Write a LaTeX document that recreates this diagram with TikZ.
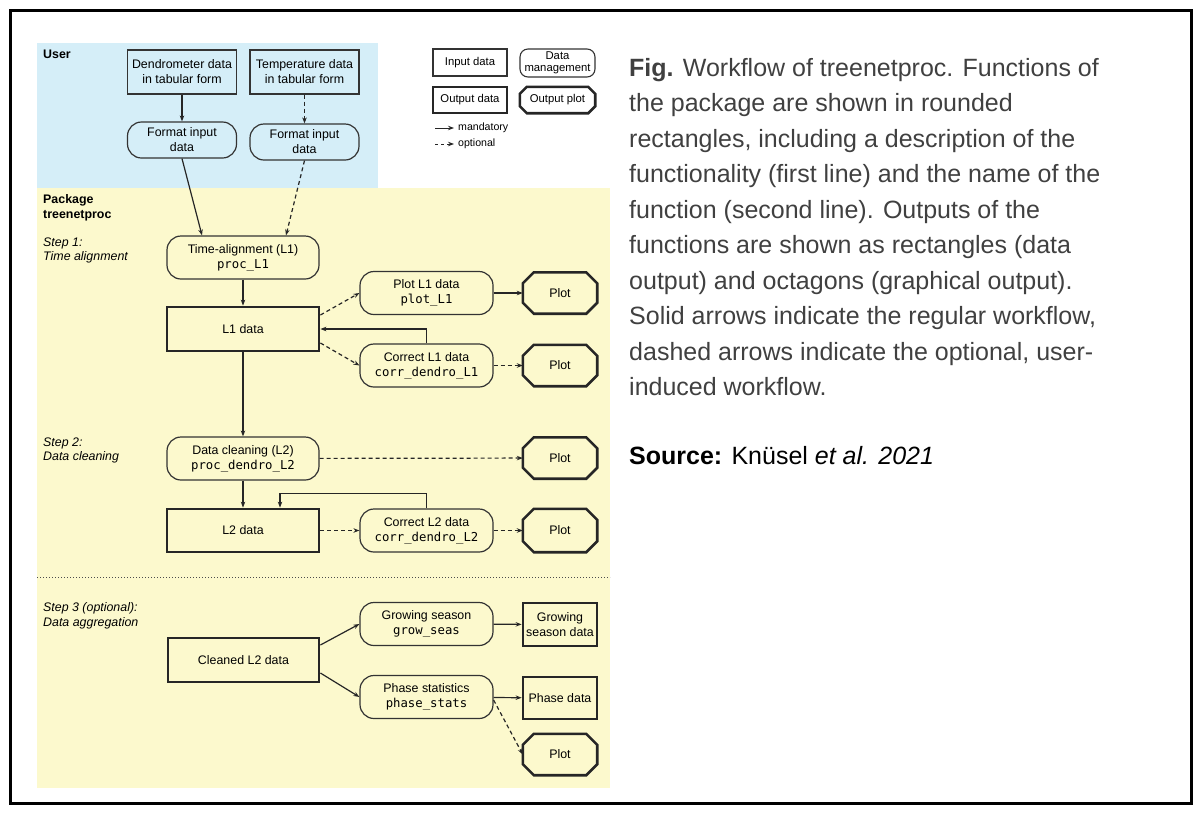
\documentclass[tikz,border=0pt]{standalone}
\usepackage{fontspec}
\setmainfont{Liberation Sans}
\newfontfamily\codefont{DejaVu Sans Mono}
\usetikzlibrary{arrows.meta}
\definecolor{userblue}{RGB}{213,238,248}
\definecolor{pkgyellow}{RGB}{252,249,205}
\definecolor{captiongray}{RGB}{64,64,64}
\newcommand{\funcname}[1]{{\codefont\fontsize{12.3}{15}\selectfont #1}}

\begin{document}
\begin{tikzpicture}[x=1pt,y=-1pt,
  txt/.style={font=\fontsize{12.4}{15}\selectfont, align=center, inner sep=0pt},
  leg/.style={font=\fontsize{11.3}{11.5}\selectfont, align=center, inner sep=0pt},
  inbox/.style={txt, draw=black!80, line width=1.2pt, minimum width=109pt, minimum height=44pt},
  funbox/.style={txt, draw=black!80, line width=1.2pt, rounded corners=14pt, minimum width=133pt, minimum height=43pt},
  outbox/.style={txt, draw=black!85, line width=2.8pt, minimum width=152pt, minimum height=44pt},
  plotbox/.style={txt, minimum width=74pt, minimum height=41pt},
  octo/.style={draw=black!85, line width=2.6pt, line join=miter},
  flow/.style={draw=black!85, line width=1.2pt, -{Stealth[length=6pt,width=4.5pt]}},
  opt/.style={flow, dash pattern=on 4pt off 3pt},
  side/.style={font=\fontsize{12.4}{14.5}\selectfont, align=left, anchor=north west, inner sep=0pt}
]
  \useasboundingbox (0,0) rectangle (1201,812);
  % frame
  \draw[line width=3pt] (10,10) rectangle (1191,803);
  % backgrounds
  \fill[userblue] (37,43) rectangle (378,188);
  \fill[pkgyellow] (37,188) rectangle (610,788);
  \draw[black!70, line width=1pt, dotted] (37,577) -- (610,577);

  % side labels
  \node[side, font=\fontsize{12.4}{15}\selectfont\bfseries] (user) at (43,49.5) {User};
  \node[side, font=\fontsize{12.4}{15}\selectfont\bfseries] (package) at (43,194.4) {Package\\treenetproc};
  \node[side, font=\fontsize{12.4}{14}\selectfont\itshape] (stepone) at (43,237.6) {Step 1:\\Time alignment};
  \node[side, font=\fontsize{12.4}{14}\selectfont\itshape] (steptwo) at (43,437.6) {Step 2:\\Data cleaning};
  \node[side, font=\fontsize{12.4}{15}\selectfont\itshape] (stepthree) at (43,602.5) {Step 3 (optional):\\Data aggregation};

  % user input
  \node[inbox] (dendro) at (182,72) {Dendrometer data\\in tabular form};
  \node[inbox] (temp) at (304.5,72) {Temperature data\\in tabular form};
  \node[funbox, minimum width=109pt, minimum height=36pt] (fmtA) at (182,140) {Format input\\data};
  \node[funbox, minimum width=109pt, minimum height=36pt] (fmtB) at (304.5,142) {Format input\\data};

  % legend
  \node[leg, draw=black!80, line width=1.1pt, minimum width=74pt, minimum height=27pt] (leginput) at (470,62.5) {Input data};
  \node[leg, draw=black!80, line width=1.1pt, rounded corners=8pt, minimum width=75pt, minimum height=28pt] (legfun) at (557.5,63) {Data\\management};
  \node[leg, draw=black!85, line width=2.2pt, minimum width=74pt, minimum height=26pt] (legout) at (470,100) {Output data};
  \node[leg, minimum width=75pt, minimum height=26pt] (legplot) at (557.5,100) {Output plot};
  \coordinate (mandA) at (435,128);
  \coordinate (mandB) at (454,128);
  \coordinate (optA) at (435,144);
  \coordinate (optB) at (454,144);
  \draw[flow, line width=1pt] (mandA) -- (mandB);
  \draw[opt, line width=1pt, dash pattern=on 3pt off 3pt] (optA) -- (optB);
  \node[leg, anchor=west, font=\fontsize{10.6}{12}\selectfont] (mandlabel) at (458,128) {mandatory};
  \node[leg, anchor=west, font=\fontsize{10.6}{12}\selectfont] (optlabel) at (458,144) {optional};

  % step 1
  \node[funbox, minimum width=152pt] (timealign) at (243,257.5) {Time-alignment (L1)\\\funcname{proc\_L1}};
  \node[outbox] (lone) at (243,329) {L1 data};
  \node[funbox] (plotlone) at (426.5,293) {Plot L1 data\\\funcname{plot\_L1}};
  \node[plotbox] (plotA) at (560,293) {Plot};
  \node[funbox] (corrlone) at (426.5,365.5) {Correct L1 data\\\funcname{corr\_dendro\_L1}};
  \node[plotbox] (plotB) at (560,365.5) {Plot};

  % step 2
  \node[funbox, minimum width=152pt] (clean) at (243,458.5) {Data cleaning (L2)\\\funcname{proc\_dendro\_L2}};
  \node[plotbox] (plotC) at (560,458) {Plot};
  \node[outbox, minimum height=43pt] (ltwo) at (243,530.5) {L2 data};
  \node[funbox] (corrltwo) at (426.5,530.5) {Correct L2 data\\\funcname{corr\_dendro\_L2}};
  \node[plotbox, minimum height=43pt] (plotD) at (560,530.5) {Plot};

  % step 3
  \node[outbox, minimum width=151pt] (cleaned) at (243.5,660) {Cleaned L2 data};
  \node[funbox] (grow) at (426.5,624) {Growing season\\\funcname{grow\_seas}};
  \node[outbox, minimum width=74pt, minimum height=43pt] (growdata) at (560,624.5) {Growing\\season data};
  \node[funbox] (phase) at (426.5,697) {Phase statistics\\\funcname{phase\_stats}};
  \node[outbox, minimum width=74pt, minimum height=42pt] (phasedata) at (560,698) {Phase data};
  \node[plotbox] (plotE) at (560,754.5) {Plot};

  % octagons
  \foreach \p/\c in {plotA/11,plotB/11,plotC/11,plotD/11,plotE/11,legplot/7}
    \draw[octo] ([xshift=\c pt]\p.north west) -- ([xshift=-\c pt]\p.north east)
      -- ([yshift=-\c pt]\p.north east) -- ([yshift=\c pt]\p.south east)
      -- ([xshift=-\c pt]\p.south east) -- ([xshift=\c pt]\p.south west)
      -- ([yshift=\c pt]\p.south west) -- ([yshift=-\c pt]\p.north west) -- cycle;

  % connectors
  \draw[flow] (dendro) -- (fmtA);
  \draw[opt] (temp) -- (fmtB);
  \draw[flow] (fmtA.south) -- ([xshift=-41pt]timealign.north);
  \draw[opt] (fmtB.south) -- ([xshift=43pt]timealign.north);
  \draw[flow] (timealign) -- (lone);
  \draw[opt] ([yshift=14pt]lone.east) -- (plotlone.west);
  \draw[flow] (plotlone) -- (plotA);
  \draw[flow] (corrlone.north) |- (lone.east);
  \draw[opt] ([yshift=-14pt]lone.east) -- (corrlone.west);
  \draw[opt] (corrlone) -- (plotB);
  \draw[flow] (lone) -- (clean);
  \draw[opt] (clean) -- (plotC);
  \draw[flow] (clean) -- (ltwo);
  \draw[flow] (corrltwo.north) -- ++(0,-15) -| ([xshift=37pt]ltwo.north);
  \draw[opt] (ltwo) -- (corrltwo);
  \draw[opt] (corrltwo) -- (plotD);
  \draw[flow] ([yshift=15pt]cleaned.east) -- (grow.west);
  \draw[flow] ([yshift=-13pt]cleaned.east) -- (phase.west);
  \draw[flow] (grow) -- (growdata);
  \draw[flow] (phase) -- (phasedata);
  \draw[opt] ([yshift=-3pt]phase.east) -- (plotE.west);

  % caption
  \node[anchor=north west, inner sep=0pt, align=left, text=captiongray, font=\fontsize{25}{35.5}\selectfont] (caption) at (629,58)
    {\textbf{Fig.} Workflow of treenetproc. Functions of\\
     the package are shown in rounded\\
     rectangles, including a description of the\\
     functionality (first line) and the name of the\\
     function (second line). Outputs of the\\
     functions are shown as rectangles (data\\
     output) and octagons (graphical output).\\
     Solid arrows indicate the regular workflow,\\
     dashed arrows indicate the optional, user-\\
     induced workflow.};
  \node[anchor=base west, inner sep=0pt, font=\fontsize{25}{30}\selectfont] (source) at (629,464)
    {\textbf{Source:} Knüsel \textit{et al. 2021}};
\end{tikzpicture}
\end{document}
